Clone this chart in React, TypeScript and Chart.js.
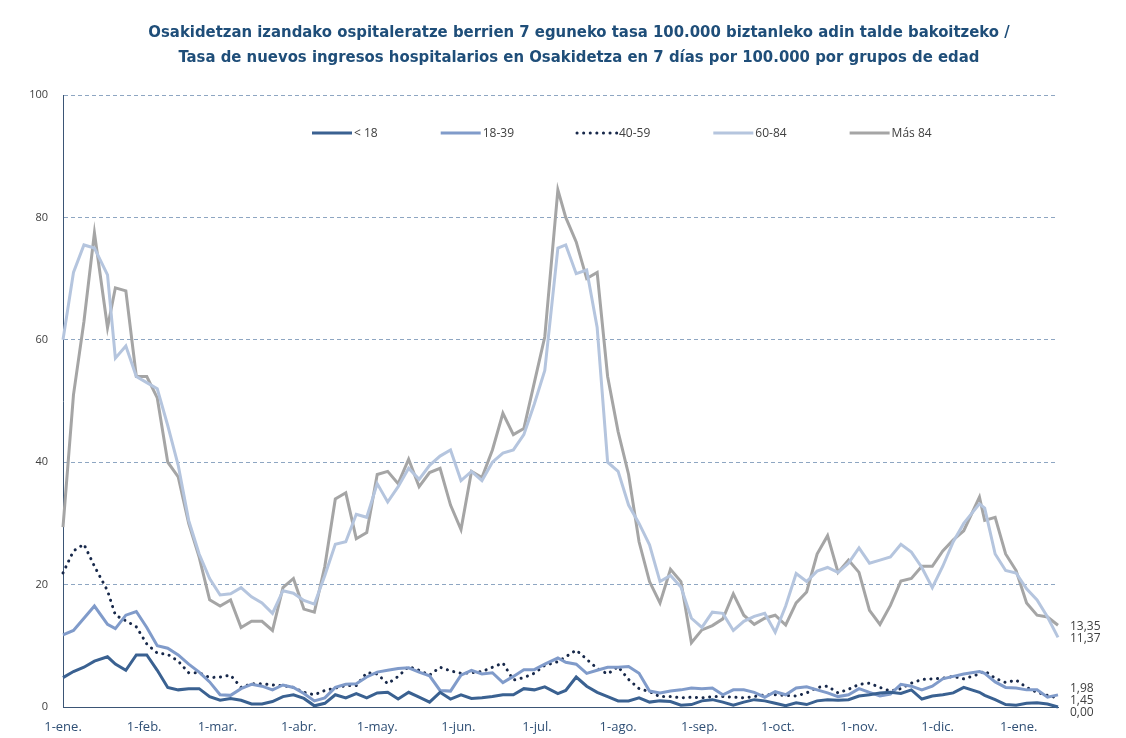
import React, { useEffect, useRef } from "react";
import { Chart, registerables } from "chart.js";

Chart.register(...registerables);

// Day offsets from 1 January (sampling of the daily series)
const days = [
  0, 4, 8, 12, 17, 20, 24, 28, 32, 36, 40, 44, 48, 52, 56, 60, 64, 68, 72, 76, 80, 84, 88, 92, 96,
  100, 104, 108, 112, 116, 120, 124, 128, 132, 136, 140, 144, 148, 152, 156, 160, 164, 168, 172,
  176, 180, 184, 189, 192, 196, 200, 204, 208, 212, 216, 220, 224, 228, 232, 236, 240, 244, 248,
  252, 256, 260, 264, 268, 272, 276, 280, 284, 288, 292, 296, 300, 304, 308, 312, 316, 320, 324,
  328, 332, 336, 340, 344, 350, 352, 356, 360, 364, 368, 372, 376, 380,
];

const monthStartDays = [0, 31, 59, 90, 120, 151, 181, 212, 243, 273, 304, 334, 365];
const monthLabels = [
  "1-ene.", "1-feb.", "1-mar.", "1-abr.", "1-may.", "1-jun.", "1-jul.",
  "1-ago.", "1-sep.", "1-oct.", "1-nov.", "1-dic.", "1-ene.",
];
const yTickValues = [0, 20, 40, 60, 80, 100];

const seriesNames = ["< 18", "18-39", "40-59", "60-84", "Más 84"];

const under18 = [
  4.8, 5.8, 6.5, 7.5, 8.2, 7, 6, 8.5, 8.5, 6, 3.2, 2.8, 3, 3, 1.7, 1.1, 1.4, 1.1, 0.5, 0.5, 0.9, 1.7, 2, 1.4, 0.2,
  0.6, 2, 1.5, 2.2, 1.5, 2.3, 2.4, 1.3, 2.4, 1.6, 0.8, 2.4, 1.3, 2, 1.4, 1.5, 1.7, 2, 2,
  3, 2.8, 3.3, 2.2, 2.7, 4.9, 3.4, 2.4, 1.7, 1, 1, 1.5, 0.8, 1, 0.9, 0.3, 0.4, 1, 1.2,
  0.8, 0.3, 0.8, 1.2, 1, 0.6, 0.2, 0.7, 0.4, 1, 1.2, 1.1, 1.2, 1.8, 2, 2.3, 2.4, 2.2, 2.8,
  1.3, 1.8, 2, 2.3, 3.2, 2.4, 1.9, 1.2, 0.4, 0.3, 0.6, 0.7, 0.5, 0,
];

const age18to39 = [
  11.8, 12.5, 14.5, 16.5, 13.5, 12.8, 15, 15.6, 13, 10, 9.6, 8.5, 7, 5.7, 4.1, 2, 1.9, 3, 3.7, 3.4, 2.8, 3.6, 3.2, 2.2, 1,
  1.5, 3.2, 3.7, 3.8, 4.9, 5.7, 6, 6.3, 6.4, 5.7, 5.1, 2.7, 2.6, 5.2, 6, 5.4, 5.6, 4, 5,
  6.1, 6.1, 7, 8, 7.3, 7, 5.5, 6, 6.5, 6.5, 6.6, 5.5, 2.6, 2.3, 2.6, 2.8, 3.1, 3, 3.1,
  2, 2.8, 2.8, 2.4, 1.6, 2.5, 2, 3.1, 3.3, 2.8, 2.3, 1.7, 2, 3, 2.4, 1.8, 2.1, 3.7, 3.4,
  2.8, 3.4, 4.6, 5, 5.4, 5.8, 5.5, 4.1, 3.2, 3.1, 2.8, 2.8, 1.6, 1.98,
];

const age40to59 = [
  21.9, 25.5, 26.6, 23, 19, 15, 14.1, 13.1, 10.3, 8.8, 8.6, 7.5, 5.6, 5.6, 4.8, 4.9, 5.2, 3.2, 3.8, 3.8, 3.6, 3.5, 3.2, 2.4, 2,
  2.7, 3.1, 3.5, 3.5, 5.6, 5.4, 3.8, 5, 6.6, 6, 5.2, 6.5, 5.9, 5.5, 5.6, 5.8, 6.5, 7.2, 4.4,
  4.8, 5.5, 6.8, 7.4, 8.2, 9.3, 7.8, 6.3, 5.4, 6.6, 4.5, 3, 2.5, 1.7, 1.7, 1.5, 1.6, 1.5, 1.7,
  1.7, 1.6, 1.5, 1.7, 2, 2, 1.9, 1.8, 2.3, 3.2, 3.4, 2.3, 2.9, 3.7, 3.9, 3.2, 2.6, 3, 3.9,
  4.5, 4.6, 4.7, 5, 4.6, 5.4, 5.9, 4.7, 4, 4.4, 3.2, 2.4, 1.9, 1.45,
];

const age60to84 = [
  60, 71, 75.5, 75, 70.6, 57, 59, 54, 53, 52, 46, 39.5, 30.5, 25, 21, 18.3, 18.5, 19.5, 18, 17, 15.3, 19, 18.6, 17.4, 16.8,
  21.5, 26.6, 27, 31.5, 31, 36.5, 33.5, 36, 39, 37.2, 39.5, 41, 42, 37, 38.5, 37, 40, 41.5, 42,
  44.5, 49.5, 55, 75, 75.5, 70.8, 71.4, 62, 40, 38.5, 33, 30, 26.5, 20.5, 21.5, 19.6, 14.5, 13, 15.5,
  15.3, 12.5, 14, 14.8, 15.3, 12.2, 16.5, 21.8, 20.5, 22.2, 22.8, 22, 23.5, 26, 23.5, 24, 24.5, 26.6, 25.3,
  22.8, 19.5, 23, 27, 30, 33.2, 32.5, 25, 22.3, 21.9, 19.3, 17.5, 14.7, 11.37,
];

const over84 = [
  29.4, 51, 63, 77.5, 62, 68.5, 68, 54, 54, 50.5, 40, 37.6, 30, 24.5, 17.5, 16.5, 17.5, 13, 14, 14, 12.5, 19.5, 21, 16, 15.5,
  23, 34, 35, 27.5, 28.5, 38, 38.5, 36.5, 40.5, 36, 38.3, 39, 33, 29, 38.5, 37.5, 42, 48, 44.5,
  45.5, 53, 60.5, 84.5, 80, 76, 70, 71, 54, 45, 38, 27, 20.5, 17, 22.5, 20.5, 10.5, 12.6, 13.3,
  14.4, 18.5, 15, 13.5, 14.5, 15, 13.4, 17, 18.8, 25, 28, 22, 24, 22, 15.8, 13.5, 16.6, 20.6, 21,
  23, 23, 25.5, 27.3, 28.8, 34.3, 30.5, 31, 25, 22.3, 17, 15, 14.7, 13.35,
];

const titleLines = [
  "Osakidetzan izandako ospitaleratze berrien 7 eguneko tasa 100.000 biztanleko adin talde bakoitzeko /",
  "Tasa de nuevos ingresos hospitalarios en Osakidetza en 7 días por 100.000 por grupos de edad",
];

const NARROW = '"Liberation Sans Narrow", "DejaVu Sans Condensed", "Open Sans", sans-serif';
const SANS = '"Open Sans", "Liberation Sans", sans-serif';

const toPoints = (vals: number[]) => days.map((d, i) => ({ x: d, y: vals[i] }));

const titlePlugin = {
  id: "customTitle",
  afterDraw(chart: any) {
    const ctx = chart.ctx;
    ctx.save();
    ctx.fillStyle = "#1f4e79";
    ctx.textAlign = "center";
    ctx.textBaseline = "middle";
    // fit the first title line to the width it occupies in the original layout
    const targetWidth = 862;
    ctx.font = `bold 18px ${NARROW}`;
    const w = ctx.measureText(titleLines[0]).width;
    const size = Math.min(19, (18 * targetWidth) / w);
    ctx.font = `bold ${size.toFixed(2)}px ${NARROW}`;
    const cx = 579;
    titleLines.forEach((t, i) => ctx.fillText(t, cx, 33 + i * 25));
    ctx.restore();
  },
};

const legendPlugin = {
  id: "inlineLegend",
  afterDatasetsDraw(chart: any) {
    const ctx = chart.ctx;
    const area = chart.chartArea;
    const y = area.top + 38;
    let x = area.left + 249;
    ctx.save();
    ctx.font = `12px ${SANS}`;
    ctx.textBaseline = "middle";
    ctx.textAlign = "left";
    chart.data.datasets.forEach((ds: any) => {
      ctx.save();
      ctx.strokeStyle = ds.borderColor;
      ctx.lineWidth = ds.borderWidth;
      ctx.lineCap = ds.borderCapStyle || "butt";
      ctx.setLineDash(ds.borderDash || []);
      ctx.beginPath();
      ctx.moveTo(x, y);
      ctx.lineTo(x + 40, y);
      ctx.stroke();
      ctx.restore();
      ctx.fillStyle = "#404040";
      ctx.fillText(ds.label, x + 42, y + 1);
      x += 42 + ctx.measureText(ds.label).width + 63;
    });
    ctx.restore();
  },
};

const endLabelPlugin = {
  id: "endLabels",
  afterDatasetsDraw(chart: any) {
    const ctx = chart.ctx;
    const ys = chart.scales.y;
    const items = chart.data.datasets.map((ds: any) => {
      const last = ds.data[ds.data.length - 1].y;
      return { v: last, y: ys.getPixelForValue(last) };
    });
    items.sort((a: any, b: any) => a.y - b.y);
    const gap = 12;
    // group overlapping labels and spread them around their mean
    let groups = items.map((it: any) => ({ members: [it], center: it.y }));
    let changed = true;
    while (changed) {
      changed = false;
      for (let i = 0; i < groups.length - 1; i++) {
        const a = groups[i];
        const b = groups[i + 1];
        const aBottom = a.center + ((a.members.length - 1) * gap) / 2;
        const bTop = b.center - ((b.members.length - 1) * gap) / 2;
        if (bTop - aBottom < gap) {
          const members = a.members.concat(b.members);
          const center = members.reduce((s: number, m: any) => s + m.y, 0) / members.length;
          groups.splice(i, 2, { members, center });
          changed = true;
          break;
        }
      }
    }
    ctx.save();
    ctx.font = `12px ${SANS}`;
    ctx.fillStyle = "#404040";
    ctx.textAlign = "left";
    ctx.textBaseline = "middle";
    const x = chart.chartArea.right + 12;
    groups.forEach((g: any) => {
      const start = g.center - ((g.members.length - 1) * gap) / 2;
      g.members.forEach((m: any, k: number) => {
        ctx.fillText(m.v.toFixed(2).replace(".", ","), x, start + k * gap + 1);
      });
    });
    ctx.restore();
  },
};

export default function App() {
  const canvasRef = useRef<HTMLCanvasElement | null>(null);

  useEffect(() => {
    if (!canvasRef.current) return;
    const lineBase = { pointRadius: 0, tension: 0, fill: false, clip: 6 };
    const chart = new Chart(canvasRef.current, {
      type: "line",
      data: {
        datasets: [
          { ...lineBase, label: seriesNames[0], data: toPoints(under18), borderColor: "#3a6191", borderWidth: 3 },
          { ...lineBase, label: seriesNames[1], data: toPoints(age18to39), borderColor: "#809bca", borderWidth: 3 },
          {
            ...lineBase,
            label: seriesNames[2],
            data: toPoints(age40to59),
            borderColor: "#17284a",
            borderWidth: 3,
            borderDash: [0.1, 6.5],
            borderCapStyle: "round",
          },
          { ...lineBase, label: seriesNames[3], data: toPoints(age60to84), borderColor: "#b5c5de", borderWidth: 3 },
          { ...lineBase, label: seriesNames[4], data: toPoints(over84), borderColor: "#a5a5a5", borderWidth: 3 },
        ],
      },
      options: {
        responsive: false,
        animation: false,
        devicePixelRatio: 1,
        parsing: true,
        layout: { padding: { left: 0, right: 68, top: 95, bottom: 0 } },
        plugins: {
          legend: { display: false },
          title: { display: false },
          tooltip: { enabled: false },
        },
        scales: {
          x: {
            type: "linear",
            min: 0,
            max: 380,
            afterBuildTicks: (scale: any) => {
              scale.ticks = monthStartDays.map((v) => ({ value: v }));
            },
            afterFit: (scale: any) => {
              scale.height = 31;
            },
            grid: { display: false, drawTicks: false },
            border: { display: true, color: "#3b5575", width: 1 },
            ticks: {
              autoSkip: false,
              maxRotation: 0,
              padding: 12,
              color: "#2f4f75",
              font: { family: SANS, size: 13 },
              callback: (v: any) => {
                const idx = monthStartDays.indexOf(Number(v));
                return idx >= 0 ? monthLabels[idx] : "";
              },
            },
          },
          y: {
            min: 0,
            max: 100,
            afterBuildTicks: (scale: any) => {
              scale.ticks = yTickValues.map((v) => ({ value: v }));
            },
            afterFit: (scale: any) => {
              scale.width = 63;
            },
            grid: { display: true, drawTicks: false, color: "#8ea6c2", lineWidth: 1 },
            border: { display: true, color: "#3b5575", width: 1, dash: [4, 3] },
            ticks: {
              padding: 15,
              color: "#404040",
              font: { family: SANS, size: 11 },
            },
          },
        },
      },
      plugins: [titlePlugin, legendPlugin, endLabelPlugin],
    } as any);
    return () => chart.destroy();
  }, []);

  return (
    <div style={{ position: "absolute", left: 0, top: 0, width: 1126, height: 738, background: "#ffffff" }}>
      <canvas ref={canvasRef} width={1126} height={738} style={{ display: "block" }} />
    </div>
  );
}
